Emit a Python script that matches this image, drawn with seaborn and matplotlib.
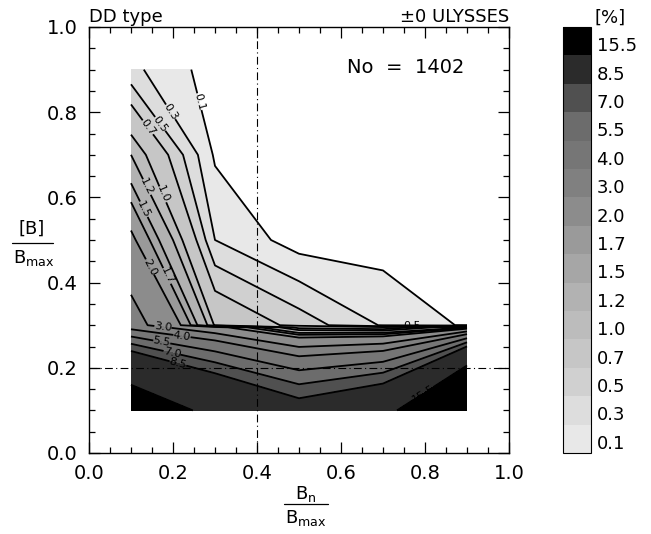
import numpy as np
import matplotlib
matplotlib.use("Agg")
import matplotlib.pyplot as plt
import matplotlib.transforms as mtransforms
import seaborn as sns
from matplotlib.ticker import MultipleLocator

# ---- data ----
x_bn = [0.1, 0.3, 0.5, 0.7, 0.9]            # Bn / Bmax grid
y_b = [0.1, 0.295, 0.3, 0.5, 0.7, 0.9]      # [B] / Bmax grid
z_y010 = [20.8, 13.6, 9.8, 12.2, 32.0]
z_y295 = [3.6, 2.2, 0.9, 0.75, 1.5]
z_y300 = [3.5, 0.97, 0.62, 0.28, 0.07]
z_y050 = [2.1, 0.30, 0.0, 0.0, 0.0]
z_y070 = [1.2, 0.07, 0.0, 0.0, 0.0]
z_y090 = [0.354, 0.0, 0.0, 0.0, 0.0]

levels = [0.1, 0.3, 0.5, 0.7, 1.0, 1.2, 1.5, 1.7, 2.0, 3.0, 4.0, 5.5, 7.0, 8.5, 15.5]
level_labels = ["0.1", "0.3", "0.5", "0.7", "1.0", "1.2", "1.5", "1.7", "2.0",
                "3.0", "4.0", "5.5", "7.0", "8.5", "15.5"]
top_level = 100.0
band_grays = ["#e8e8e8", "#dddddd", "#d0d0d0", "#c6c6c6", "#bcbcbc", "#b2b2b2",
              "#a6a6a6", "#9a9a9a", "#8c8c8c", "#808080", "#767676", "#6c6c6c",
              "#505050", "#2b2b2b", "#000000"]

# contour label positions (x, y) per level
label_pos = {0.1: [(0.26, 0.824)], 0.3: [(0.193, 0.80)],
             0.5: [(0.169, 0.772), (0.77, 0.299)],
             0.7: [(0.138, 0.763)], 1.0: [(0.173, 0.606)], 1.2: [(0.133, 0.622)],
             1.5: [(0.126, 0.57)], 1.7: [(0.18, 0.413)], 2.0: [(0.14, 0.434)],
             3.0: [(0.176, 0.296)], 4.0: [(0.221, 0.272)], 5.5: [(0.174, 0.265)],
             7.0: [(0.198, 0.237)], 8.5: [(0.212, 0.211)], 15.5: [(0.79, 0.15)]}

sns.set_theme(style="ticks")
plt.rcParams['font.family'] = ['DejaVu Sans']
plt.rcParams.update({
    "xtick.direction": "in", "ytick.direction": "in",
    "xtick.top": True, "ytick.right": True,
    "axes.edgecolor": "black", "axes.linewidth": 1.0,
    "xtick.color": "black", "ytick.color": "black",
    "xtick.labelcolor": "black", "ytick.labelcolor": "black",
    "text.color": "black", "axes.labelcolor": "black",
})

W, H = 651, 534
fig = plt.figure(figsize=(W / 100, H / 100), dpi=100)
ax = fig.add_axes([89 / W, 81 / H, 420 / W, 426 / H])

Z = np.array([z_y010, z_y295, z_y300, z_y050, z_y070, z_y090])
cf = ax.contourf(x_bn, y_b, Z, levels=levels + [top_level], colors=band_grays)
for lev in levels:
    cs = ax.contour(x_bn, y_b, Z, levels=[lev], colors="black", linewidths=1.3)
    ax.clabel(cs, manual=label_pos[lev], fmt="%.1f", fontsize=8,
              inline=True, inline_spacing=2, colors="black")

ax.axvline(0.4, color="black", lw=0.8, dashes=(7, 3, 1, 3))
ax.axhline(0.2, color="black", lw=0.8, dashes=(7, 3, 1, 3))

ax.set_xlim(0, 1)
ax.set_ylim(0, 1)
ax.xaxis.set_major_locator(MultipleLocator(0.2))
ax.yaxis.set_major_locator(MultipleLocator(0.2))
ax.xaxis.set_minor_locator(MultipleLocator(0.05))
ax.yaxis.set_minor_locator(MultipleLocator(0.05))
ax.xaxis.set_major_formatter(lambda v, p: f"{v:.1f}")
ax.yaxis.set_major_formatter(lambda v, p: f"{v:.1f}")
ax.tick_params(which="major", length=8, width=0.9, labelsize=14, pad=8,
               top=True, right=True, direction="in", labelcolor="black")
ax.tick_params(which="minor", length=4.5, width=0.9, top=True, right=True,
               direction="in")
ax.set_xlabel("")
ax.set_ylabel("")

ax.text(0.615, 0.904, "No  =  1402", transform=ax.transAxes, fontsize=14,
        va="center", ha="left", color="black")
fig.text(89 / W, 1 - 22 / H, "DD type", fontsize=13, ha="left", va="baseline",
         color="black")
fig.text(509 / W, 1 - 22 / H, "±0 ULYSSES", fontsize=13, ha="right", va="baseline",
         color="black")

# axis labels as fractions
fig.text(306 / W, 1 - 494 / H, r"B$_{\rm n}$", fontsize=13, ha="center", va="center",
         color="black")
fig.add_artist(plt.Line2D([284 / W, 328 / W], [1 - 504 / H, 1 - 504 / H],
                          color="black", lw=0.9, transform=fig.transFigure))
fig.text(306 / W, 1 - 518 / H, r"B$_{\rm max}$", fontsize=13, ha="center", va="center",
         color="black")

fig.text(32 / W, 1 - 229 / H, "[B]", fontsize=13, ha="center", va="center",
         color="black")
fig.add_artist(plt.Line2D([12 / W, 53 / W], [1 - 243 / H, 1 - 243 / H],
                          color="black", lw=0.9, transform=fig.transFigure))
fig.text(34 / W, 1 - 258 / H, r"B$_{\rm max}$", fontsize=13, ha="center", va="center",
         color="black")

# colorbar
cax = fig.add_axes([563 / W, 81 / H, 28 / W, 426 / H])
cb = fig.colorbar(cf, cax=cax)
bounds = levels + [top_level]
mids = [(a + b) / 2 for a, b in zip(bounds[:-1], bounds[1:])]
cb.set_ticks(mids, labels=level_labels)
cb.ax.minorticks_off()
cb.ax.tick_params(length=0, labelsize=13, pad=4, labelcolor="black")
cb.outline.set_linewidth(0.8)
cb.outline.set_edgecolor("black")
shift = mtransforms.ScaledTranslation(0, -3 / 100, fig.dpi_scale_trans)
for t in cb.ax.get_yticklabels():
    t.set_transform(t.get_transform() + shift)
fig.text(594 / W, 1 - 18 / H, "[%]", fontsize=13, ha="left", va="center",
         color="black")

fig.savefig("out.png", dpi=100)
